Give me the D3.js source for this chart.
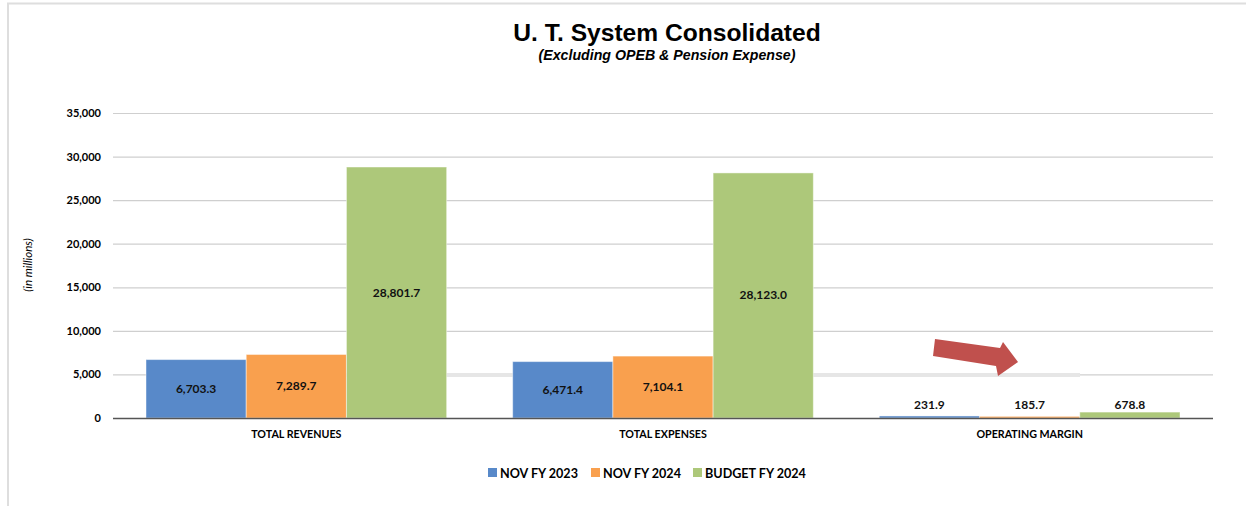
<!DOCTYPE html>
<html>
<head>
<meta charset="utf-8">
<script src="https://cdn.jsdelivr.net/npm/d3@7"></script>
<style>
  body { margin: 0; background: #fff; }
  svg { display: block; }
</style>
</head>
<body>
<svg id="chart" width="1246" height="506"></svg>
<script>
// --- chart data ---
const categories = ["TOTAL REVENUES", "TOTAL EXPENSES", "OPERATING MARGIN"];
const seriesNames = ["NOV FY 2023", "NOV FY 2024", "BUDGET FY 2024"];
const nov2023 = [6703.3, 6471.4, 231.9];
const nov2024 = [7289.7, 7104.1, 185.7];
const budget2024 = [28801.7, 28123.0, 678.8];
const yTicks = [0, 5000, 10000, 15000, 20000, 25000, 30000, 35000];

const colors = ["#5889c9", "#f9a04e", "#adc87a"];
const values = [nov2023, nov2024, budget2024];

const svg = d3.select("#chart");
const plot = { left: 113, right: 1213, top: 113, bottom: 418 };

// outer frame (left + top edges only show)
svg.append("path")
    .attr("d", `M8,506 V3.5 H1246`)
    .attr("fill", "none")
    .attr("stroke", "#dedede")
    .attr("stroke-width", 2);

// title
svg.append("text")
    .attr("x", 667).attr("y", 41)
    .attr("text-anchor", "middle")
    .attr("font-family", "Liberation Sans, Arial, sans-serif")
    .attr("font-weight", "bold")
    .attr("font-size", 24.6)
    .text("U. T. System Consolidated");

svg.append("text")
    .attr("x", 667).attr("y", 60)
    .attr("text-anchor", "middle")
    .attr("font-family", "Liberation Sans, Arial, sans-serif")
    .attr("font-weight", "bold")
    .attr("font-style", "italic")
    .attr("font-size", 14.2)
    .text("(Excluding OPEB & Pension Expense)");

// scales
const x0 = d3.scaleBand().domain(categories).range([plot.left, plot.right]).paddingInner(0.18).paddingOuter(0.09);
const x1 = d3.scaleBand().domain(seriesNames).range([0, x0.bandwidth()]).padding(0);
const y = d3.scaleLinear().domain([0, 35000]).range([plot.bottom, plot.top]);

// gridlines
svg.append("g")
    .selectAll("line")
    .data(yTicks.filter(d => d > 0))
    .join("line")
    .attr("x1", plot.left).attr("x2", plot.right)
    .attr("y1", d => y(d) + 0.5).attr("y2", d => y(d) + 0.5)
    .attr("stroke", "#cfcfcf")
    .attr("stroke-width", 1.2);

// the faint highlight band across the 5,000 line
svg.append("line")
    .attr("x1", 345).attr("x2", 1080)
    .attr("y1", y(5000) + 0.5).attr("y2", y(5000) + 0.5)
    .attr("stroke", "#e6e6e6")
    .attr("stroke-width", 4);

// y axis tick labels
svg.append("g")
    .selectAll("text")
    .data(yTicks)
    .join("text")
    .attr("x", 101)
    .attr("y", d => y(d) + 4)
    .attr("text-anchor", "end")
    .attr("font-family", "Lato, sans-serif")
    .attr("font-weight", "bold")
    .attr("font-size", 11)
    .text(d => d3.format(",")(d));

// y axis title
svg.append("text")
    .attr("transform", "translate(32,265) rotate(-90)")
    .attr("text-anchor", "middle")
    .attr("font-family", "Lato, sans-serif")
    .attr("font-style", "italic")
    .attr("font-size", 11.5)
    .text("(in millions)");

// bars
const groups = svg.append("g")
    .selectAll("g")
    .data(seriesNames)
    .join("g")
    .attr("fill", (d, i) => colors[i]);

groups.selectAll("rect")
    .data((s, si) => categories.map((c, ci) => ({ c, s, v: values[si][ci] })))
    .join("rect")
    .attr("x", d => x0(d.c) + x1(d.s))
    .attr("width", x1.bandwidth())
    .attr("y", d => y(d.v))
    .attr("height", d => y(0) - y(d.v))
    .attr("stroke", "rgba(255,255,255,0.45)")
    .attr("stroke-width", 1);

// bar value labels
groups.selectAll("text")
    .data((s, si) => categories.map((c, ci) => ({ c, s, v: values[si][ci] })))
    .join("text")
    .attr("x", d => x0(d.c) + x1(d.s) + x1.bandwidth() / 2)
    .attr("y", d => Math.min((y(d.v) + y(0)) / 2, y(0) - 13) + 4)
    .attr("text-anchor", "middle")
    .attr("fill", "#111")
    .attr("font-family", "Lato, sans-serif")
    .attr("font-weight", "bold")
    .attr("font-size", 12)
    .text(d => d3.format(",.1f")(d.v));

// zero axis line
svg.append("line")
    .attr("x1", plot.left).attr("x2", plot.right)
    .attr("y1", y(0) + 0.5).attr("y2", y(0) + 0.5)
    .attr("stroke", "#555")
    .attr("stroke-width", 1.3);

// category labels
svg.append("g")
    .selectAll("text")
    .data(categories)
    .join("text")
    .attr("x", d => x0(d) + x0.bandwidth() / 2)
    .attr("y", 438)
    .attr("text-anchor", "middle")
    .attr("font-family", "Lato, sans-serif")
    .attr("font-weight", "bold")
    .attr("font-size", 10.7)
    .text(d => d);

// red annotation arrow
svg.append("path")
    .attr("d", "M935,339 L1000,348 L1003,342 L1018,362 L998,376 L996,366 L933,356 Z")
    .attr("fill", "#c0504d");

// legend
const legendX = [488, 591, 693];
const legend = svg.append("g")
    .selectAll("g")
    .data(seriesNames)
    .join("g")
    .attr("transform", (d, i) => `translate(${legendX[i]},468)`);

legend.append("rect")
    .attr("width", 9).attr("height", 9)
    .attr("fill", (d, i) => colors[i]);

legend.append("text")
    .attr("x", 12).attr("y", 9.5)
    .attr("font-family", "Lato, sans-serif")
    .attr("font-weight", "bold")
    .attr("font-size", 12.6)
    .text(d => d);
</script>
</body>
</html>
